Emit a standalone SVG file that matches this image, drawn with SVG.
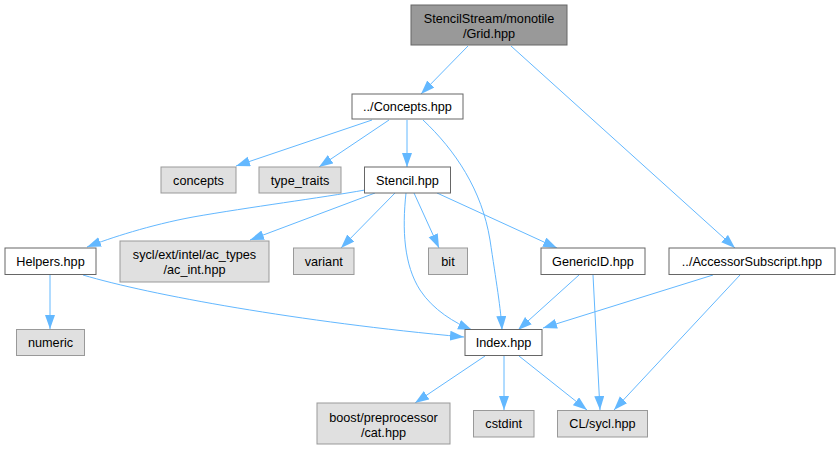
<svg xmlns="http://www.w3.org/2000/svg" width="840" height="450" viewBox="0 0 840 450">
<style>
text{font-family:"Liberation Sans",Arial,sans-serif;font-size:12.7px;fill:#000;text-anchor:middle}
.w{fill:#fff;stroke:#666;stroke-width:1}
.g{fill:#e0e0e0;stroke:#999;stroke-width:1}
.r{fill:#999;stroke:#666;stroke-width:1}
.e{fill:none;stroke:#63b8ff;stroke-width:1;marker-end:url(#a)}
</style>
<defs>
<marker id="a" markerUnits="userSpaceOnUse" markerWidth="15" markerHeight="11" refX="14" refY="5" orient="auto">
<path d="M0,0 L14,5 L0,10 Z" fill="#63b8ff"/>
</marker>
</defs>
<rect width="840" height="450" fill="#fff"/>
<g id="edges">
<path class="e" d="M468,46 L421,94"/>
<path class="e" d="M511,46 L735,248"/>
<path class="e" d="M372,120 L236,166"/>
<path class="e" d="M389,120 L319,167"/>
<path class="e" d="M407,120 L407,167"/>
<path class="e" d="M423,120 C455,150 482,190 490,240 C496,280 501,310 502,330"/>
<path class="e" d="M365,190 C320,198 250,207 193,217 C150,225 110,238 87,247"/>
<path class="e" d="M375,193 L250,240"/>
<path class="e" d="M395,193 L341,248"/>
<path class="e" d="M414,193 L439,248"/>
<path class="e" d="M406,193 C402,230 404,265 420,290 C433,310 455,323 472,330"/>
<path class="e" d="M437,193 L557,248"/>
<path class="e" d="M83,275 C150,295 300,322 464,337"/>
<path class="e" d="M50,275 L50,329"/>
<path class="e" d="M579,275 L518,330"/>
<path class="e" d="M593,275 L600,410"/>
<path class="e" d="M713,275 L543,328"/>
<path class="e" d="M740,275 L614,410"/>
<path class="e" d="M485,356 L415,403"/>
<path class="e" d="M504,356 L504,410"/>
<path class="e" d="M519,356 L587,410"/>
</g>
<g id="grid"><rect class="r" x="411" y="5" width="156" height="40"/><text x="489" y="22.5">StencilStream/monotile</text><text x="489" y="37.5">/Grid.hpp</text></g>
<g id="concepts_hpp"><rect class="w" x="352" y="94" width="111" height="25"/><text x="407.5" y="111">../Concepts.hpp</text></g>
<g id="concepts"><rect class="g" x="161" y="167" width="75" height="26"/><text x="198.5" y="184.5">concepts</text></g>
<g id="type_traits"><rect class="g" x="259" y="167" width="82" height="26"/><text x="300" y="184.5">type_traits</text></g>
<g id="stencil"><rect class="w" x="364.5" y="167" width="86" height="26"/><text x="407.5" y="184.5">Stencil.hpp</text></g>
<g id="helpers"><rect class="w" x="5" y="248" width="91" height="26.5"/><text x="50.5" y="266">Helpers.hpp</text></g>
<g id="ac_int"><rect class="g" x="120" y="241" width="149" height="41"/><text x="194.5" y="259">sycl/ext/intel/ac_types</text><text x="194.5" y="274">/ac_int.hpp</text></g>
<g id="variant"><rect class="g" x="293.5" y="248" width="60.5" height="26.5"/><text x="323.7" y="266">variant</text></g>
<g id="bit"><rect class="g" x="428.5" y="248" width="39" height="26.5"/><text x="448" y="266">bit</text></g>
<g id="genericid"><rect class="w" x="541" y="248" width="104" height="26.5"/><text x="593" y="266">GenericID.hpp</text></g>
<g id="accessor"><rect class="w" x="669" y="248" width="166" height="26.5"/><text x="752" y="266">../AccessorSubscript.hpp</text></g>
<g id="numeric"><rect class="g" x="16.5" y="329.5" width="68" height="26"/><text x="50.5" y="347">numeric</text></g>
<g id="index"><rect class="w" x="465" y="329.5" width="77" height="26"/><text x="503.5" y="347">Index.hpp</text></g>
<g id="boost"><rect class="g" x="317" y="403" width="133" height="41"/><text x="383.5" y="421.5">boost/preprocessor</text><text x="383.5" y="436.5">/cat.hpp</text></g>
<g id="cstdint"><rect class="g" x="473.5" y="410.5" width="60.5" height="26.5"/><text x="503.7" y="428">cstdint</text></g>
<g id="cl_sycl"><rect class="g" x="557.5" y="410.5" width="90" height="26.5"/><text x="602.5" y="428">CL/sycl.hpp</text></g>
</svg>
